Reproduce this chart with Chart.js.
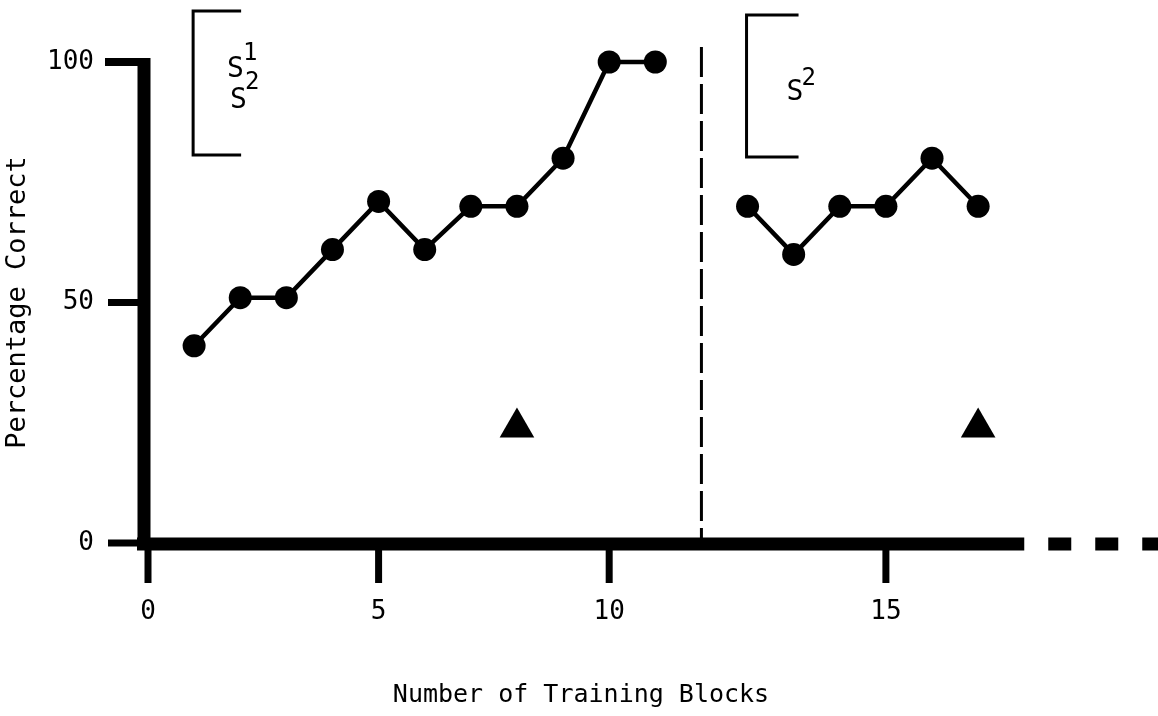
<!DOCTYPE html>
<html>
<head>
<meta charset="utf-8">
<script src="https://cdn.jsdelivr.net/npm/chart.js@4.4.0/dist/chart.umd.min.js"></script>
<style>
  html, body { margin: 0; background: #fff; }
</style>
</head>
<body>
<canvas id="chart" width="1158" height="716"></canvas>
<script>
// training phase 1 (S1 + S2) and phase 2 (S2 only)
const phase1Blocks = [1, 2, 3, 4, 5, 6, 7, 8, 9, 10, 11];
const phase1Pct = [41, 51, 51, 61, 71, 61, 70, 70, 80, 100, 100];
const phase2Blocks = [12, 13, 14, 15, 16, 17];
const phase2Pct = [70, 60, 70, 70, 80, 70];
const triangleBlocks = [8, 17];
const trianglePct = [24, 24];
const xTickBlocks = [0, 5, 10, 15];
const yTicks = [0, 50, 100];

// the axis leaves one block of space at the phase break
const breakAfter = 11;
function pos(block) {
    return block > breakAfter ? block + 1 : block;
}

const FONT = "'DejaVu Sans Mono', monospace";

function toPoints(blocks, values) {
    return blocks.map((b, i) => ({ x: pos(b), y: values[i] }));
}

const axesPlugin = {
    id: 'axes',
    beforeDatasetsDraw(chart) {
        const ctx = chart.ctx;
        const xs = chart.scales.x;
        const ys = chart.scales.y;
        const x0 = xs.getPixelForValue(0);
        const y0 = ys.getPixelForValue(0);
        const yTop = ys.getPixelForValue(100);

        ctx.save();
        ctx.strokeStyle = '#000';
        ctx.lineCap = 'butt';

        // y axis
        ctx.lineWidth = 13;
        ctx.beginPath();
        ctx.moveTo(x0 - 4, yTop - 4);
        ctx.lineTo(x0 - 4, y0 + 6);
        ctx.stroke();

        // x axis, solid part then dashes
        const solidEnd = xs.getPixelForValue(19);
        ctx.beginPath();
        ctx.moveTo(x0 - 11, y0 + 1);
        ctx.lineTo(solidEnd, y0 + 1);
        ctx.stroke();
        ctx.setLineDash([23, 24]);
        ctx.beginPath();
        ctx.moveTo(solidEnd + 24, y0 + 1);
        ctx.lineTo(chart.width + 30, y0 + 1);
        ctx.stroke();
        ctx.setLineDash([]);

        // y ticks
        yTicks.forEach(v => {
            const py = ys.getPixelForValue(v);
            ctx.lineWidth = v === 100 ? 8 : 7;
            ctx.beginPath();
            ctx.moveTo(v === 100 ? x0 - 43 : x0 - 40, py);
            ctx.lineTo(x0 - 4, py);
            ctx.stroke();
        });

        // x ticks
        ctx.lineWidth = 7;
        xTickBlocks.forEach(b => {
            const px = xs.getPixelForValue(pos(b));
            ctx.beginPath();
            ctx.moveTo(px, y0 + 4);
            ctx.lineTo(px, y0 + 40);
            ctx.stroke();
        });

        // phase break
        const xb = xs.getPixelForValue(pos(breakAfter) + 1);
        ctx.lineWidth = 3;
        ctx.setLineDash([30, 7]);
        ctx.beginPath();
        ctx.moveTo(xb, 47);
        ctx.lineTo(xb, y0);
        ctx.stroke();
        ctx.setLineDash([]);

        // stimulus brackets
        function bracket(block, top, bottom, arm) {
            const bx = xs.getPixelForValue(pos(block)) - 1;
            ctx.lineWidth = 3;
            ctx.beginPath();
            ctx.moveTo(bx + arm, top);
            ctx.lineTo(bx, top);
            ctx.lineTo(bx, bottom);
            ctx.lineTo(bx + arm, bottom);
            ctx.stroke();
            return bx;
        }
        ctx.fillStyle = '#000';
        ctx.textBaseline = 'alphabetic';
        ctx.textAlign = 'left';

        let bx = bracket(1, 11, 155, 48);
        ctx.font = '28px ' + FONT;
        ctx.fillText('S', bx + 34, 77);
        ctx.fillText('S', bx + 37, 108);
        ctx.font = '24px ' + FONT;
        ctx.fillText('1', bx + 50, 60);
        ctx.fillText('2', bx + 52, 89);

        bx = bracket(12, 15, 157, 52);
        ctx.font = '28px ' + FONT;
        ctx.fillText('S', bx + 40, 100);
        ctx.font = '24px ' + FONT;
        ctx.fillText('2', bx + 55, 85);

        // x axis title, set left of the plot centre as in the original
        ctx.font = '25px ' + FONT;
        ctx.textAlign = 'center';
        ctx.textBaseline = 'middle';
        ctx.fillText('Number of Training Blocks', 581, 695);

        ctx.restore();
    }
};

const ctx = document.getElementById('chart').getContext('2d');
Chart.defaults.color = '#000';
Chart.defaults.font.family = FONT;

new Chart(ctx, {
    type: 'scatter',
    data: {
        datasets: [
            {
                data: toPoints(phase1Blocks, phase1Pct),
                showLine: true,
                borderColor: '#000',
                borderWidth: 4.5,
                backgroundColor: '#000',
                pointRadius: 11.5,
                pointBorderWidth: 0,
                clip: false
            },
            {
                data: toPoints(phase2Blocks, phase2Pct),
                showLine: true,
                borderColor: '#000',
                borderWidth: 4.5,
                backgroundColor: '#000',
                pointRadius: 11.5,
                pointBorderWidth: 0,
                clip: false
            },
            {
                data: toPoints(triangleBlocks, trianglePct),
                showLine: false,
                backgroundColor: '#000',
                borderColor: '#000',
                pointStyle: 'triangle',
                pointRadius: 20,
                pointBorderWidth: 0,
                clip: false
            }
        ]
    },
    options: {
        responsive: false,
        animation: false,
        layout: { autoPadding: false, padding: { top: 62, right: 0, left: 0, bottom: 0 } },
        plugins: {
            legend: { display: false },
            tooltip: { enabled: false }
        },
        scales: {
            x: {
                type: 'linear',
                min: 0,
                max: 21.9,
                grid: { display: false },
                border: { display: false },
                afterBuildTicks(scale) {
                    scale.ticks = xTickBlocks.map(b => ({ value: pos(b) }));
                },
                afterFit(scale) {
                    scale.height = 173;
                },
                ticks: {
                    autoSkip: false,
                    maxRotation: 0,
                    padding: 46,
                    font: { size: 26, family: FONT },
                    callback: (value, index) => String(xTickBlocks[index])
                },
                title: { display: false }
            },
            y: {
                min: 0,
                max: 100,
                grid: { display: false },
                border: { display: false },
                afterBuildTicks(scale) {
                    scale.ticks = yTicks.map(v => ({ value: v }));
                },
                afterFit(scale) {
                    scale.width = 148;
                },
                ticks: {
                    padding: 46,
                    font: { size: 26, family: FONT }
                },
                title: {
                    display: true,
                    text: 'Percentage Correct',
                    font: { size: 27, family: FONT },
                    padding: { top: 2, bottom: 0 }
                }
            }
        }
    },
    plugins: [axesPlugin]
});
</script>
</body>
</html>
